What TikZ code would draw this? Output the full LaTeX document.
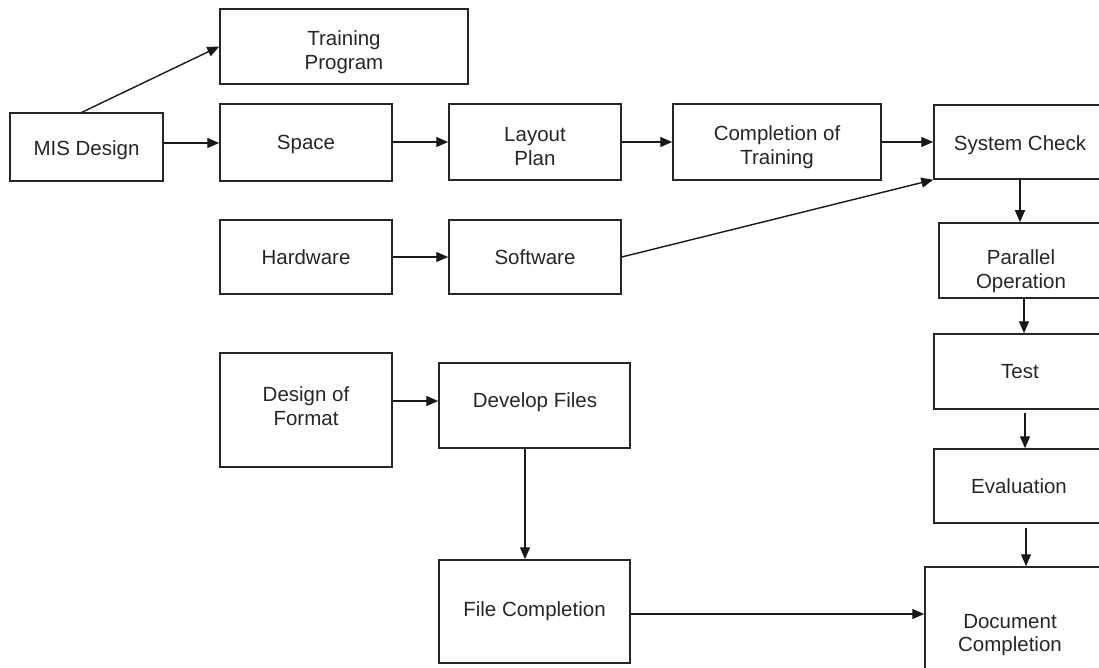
\documentclass[tikz,border=0pt]{standalone}
\usepackage{fontspec}
\setmainfont{Liberation Sans}
\usetikzlibrary{arrows.meta,calc}
\begin{document}
\begin{tikzpicture}[x=1pt,y=-1pt,
  box/.style={draw=black!85,line width=1.5pt,rectangle,inner sep=0pt},
  txt/.style={inner sep=0pt,align=center,text=black!85,font=\fontsize{20.5}{23.5}\selectfont},
  arr/.style={draw=black!90,line width=1.4pt,-{Triangle[length=12pt,width=10pt]}}]
\useasboundingbox (0,0) rectangle (1099,668);
\clip (0,0) rectangle (1099,668);
% boxes
\node[box,minimum width=248,minimum height=75] (train) at (344,46.5) {};
\node[box,minimum width=153,minimum height=68] (mis) at (86.5,147) {};
\node[box,minimum width=172,minimum height=77] (space) at (306,142.5) {};
\node[box,minimum width=172,minimum height=76] (layout) at (535,142) {};
\node[box,minimum width=208,minimum height=76] (compl) at (777,142) {};
\node[box,minimum width=172,minimum height=74] (sys) at (1020,142) {};
\node[box,minimum width=172,minimum height=74] (hard) at (306,257) {};
\node[box,minimum width=172,minimum height=74] (soft) at (535,257) {};
\node[box,minimum width=164,minimum height=75] (par) at (1021,260.5) {};
\node[box,minimum width=172,minimum height=75] (test) at (1020,371.5) {};
\node[box,minimum width=170,minimum height=74] (eval) at (1019,486) {};
\node[box,minimum width=172,minimum height=114] (design) at (306,410) {};
\node[box,minimum width=191,minimum height=85] (dev) at (534.5,405.5) {};
\node[box,minimum width=191,minimum height=103] (file) at (534.5,611.5) {};
\node[box,minimum width=190,minimum height=140] (doc) at (1020,637) {};
% texts
\node[txt] (trainT) at (344,52) {Training\\Program};
\node[txt] (misT) at (86.5,150) {MIS Design};
\node[txt] (spaceT) at (306,144) {Space};
\node[txt] (layoutT) at (535,146.5) {Layout\\Plan};
\node[txt] (complT) at (777,147) {Completion of\\Training};
\node[txt] (sysT) at (1020,145) {System Check};
\node[txt] (hardT) at (306,257) {Hardware};
\node[txt] (softT) at (535,257) {Software};
\node[txt] (parT) at (1021,271) {Parallel\\Operation};
\node[txt] (testT) at (1020,371.5) {Test};
\node[txt] (evalT) at (1019,486) {Evaluation};
\node[txt] (designT) at (306,406) {Design of\\Format};
\node[txt] (devT) at (535,402) {Develop Files};
\node[txt] (fileT) at (534.5,611.5) {File Completion};
\node[txt] (docT) at (1010,635) {Document\\Completion};
% connectors
\draw[arr] ([xshift=-4.5pt]mis.north) -- (train.west);
\draw[arr] ([yshift=-0.5pt]mis.east |- space.west) -- ([yshift=-0.5pt]space.west);
\draw[arr] (space.east |- layout.west) -- (layout.west);
\draw[arr] (layout.east) -- (compl.west);
\draw[arr] (compl.east) -- (sys.west);
\draw[arr] (hard.east) -- (soft.west);
\draw[arr] (soft.east) -- (sys.south west);
\draw[arr] (sys.south) -- (sys.south |- par.north);
\draw[arr] ([xshift=3pt]par.south) -- ([xshift=3pt]par.south |- test.north);
\draw[arr] ([xshift=5pt,yshift=-3pt]test.south) -- ([xshift=5pt]test.south |- eval.north);
\draw[arr] ([xshift=7pt,yshift=-4pt]eval.south) -- ([xshift=7pt]eval.south |- doc.north);
\draw[arr] ([yshift=4.5pt]design.east |- dev.east) -- ([yshift=4.5pt]dev.west);
\draw[arr] ([xshift=-9.5pt]dev.south) -- ([xshift=-9.5pt]dev.south |- file.north);
\draw[arr] ([yshift=-2.5pt]file.east) -- ([yshift=-2.5pt]file.east -| doc.west);
\end{tikzpicture}
\end{document}
